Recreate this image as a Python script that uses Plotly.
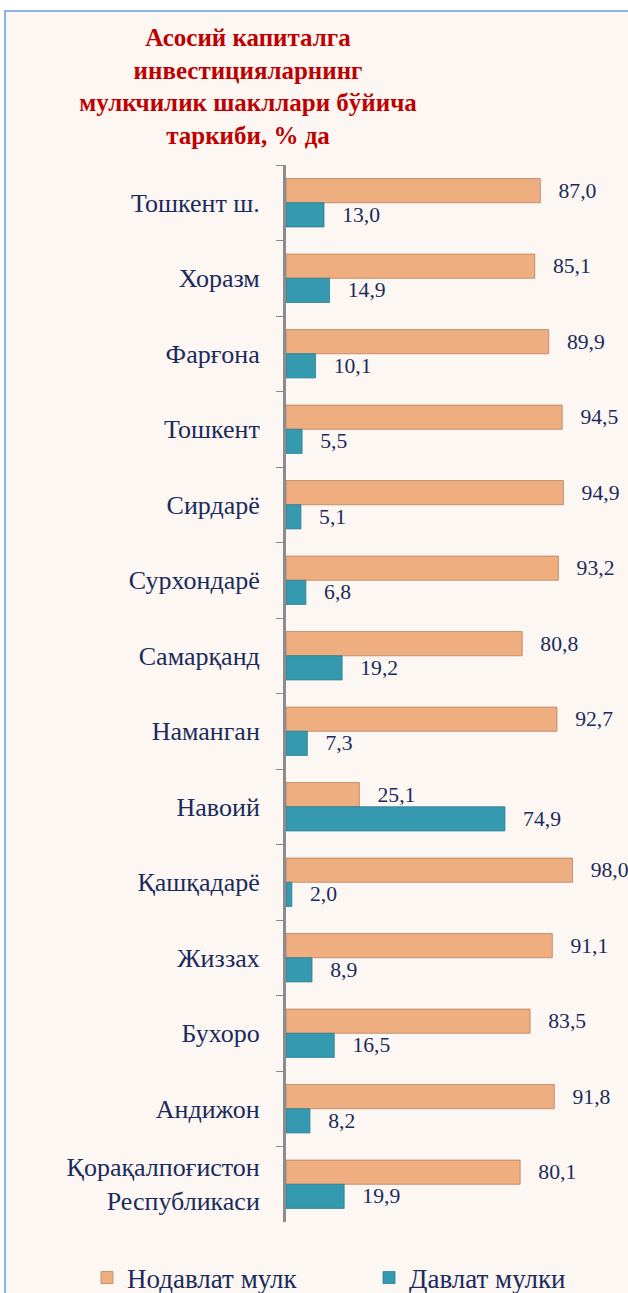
import plotly.graph_objects as go

categories = ["Тошкент ш.", "Хоразм", "Фарғона", "Тошкент", "Сирдарё", "Сурхондарё",
              "Самарқанд", "Наманган", "Навоий", "Қашқадарё", "Жиззах", "Бухоро",
              "Андижон", "Қорақалпоғистон<br>Республикаси"]
nodavlat = [87.0, 85.1, 89.9, 94.5, 94.9, 93.2, 80.8, 92.7, 25.1, 98.0, 91.1, 83.5, 91.8, 80.1]
davlat = [13.0, 14.9, 10.1, 5.5, 5.1, 6.8, 19.2, 7.3, 74.9, 2.0, 8.9, 16.5, 8.2, 19.9]
series_names = ["Нодавлат мулк", "Давлат мулки"]
title_text = "Асосий капиталга<br>инвестицияларнинг<br>мулкчилик шакллари бўйича<br>таркиби, % да"

FONT = "Liberation Serif"
NAVY = "#1B2A5C"

def fmt(v):
    return "\u2002\u2009" + f"{v:.1f}".replace(".", ",")

fig = go.Figure()
fig.add_trace(go.Bar(y=categories, x=nodavlat, orientation="h", name=series_names[0],
                     marker=dict(color="#EFAE80", line=dict(color="#B88060", width=0.8)),
                     text=[fmt(v) for v in nodavlat], textposition="outside",
                     textfont=dict(family=FONT, size=26, color=NAVY), cliponaxis=False))
fig.add_trace(go.Bar(y=categories, x=davlat, orientation="h", name=series_names[1],
                     marker=dict(color="#3599AF", line=dict(color="#2A7F93", width=0.8)),
                     text=[fmt(v) for v in davlat], textposition="outside",
                     textfont=dict(family=FONT, size=26, color=NAVY), cliponaxis=False))

L, R, T, B = 286, 628, 165, 1222
W, H = R - L, B - T
def px(x):
    return (x - L) / W
def py(y):
    return (B - y) / H

fig.update_layout(
    width=628, height=1293,
    margin=dict(l=L, r=628 - R, t=T, b=1293 - B, autoexpand=False),
    paper_bgcolor="white", plot_bgcolor="rgba(0,0,0,0)",
    barmode="group", bargap=0.36, bargroupgap=0,
    font=dict(family=FONT, color=NAVY),
    title=dict(text=title_text, x=248 / 628, xanchor="center", y=1 - 46 / 1293, yanchor="top",
               font=dict(family=FONT, size=25, color="#C00000", weight="bold")),
    xaxis=dict(range=[0, 117], visible=False, fixedrange=True),
    yaxis=dict(autorange="reversed", showline=True, linecolor="#8C8C8C", linewidth=3,
               ticks="outside", tickson="boundaries", ticklen=7, tickcolor="#8C8C8C",
               tickfont=dict(family=FONT, size=26, color=NAVY), ticklabelstandoff=18,
               showgrid=False, zeroline=False, automargin=False, fixedrange=True),
    legend=dict(orientation="h", x=px(87), xanchor="left", y=py(1278), yanchor="middle",
                font=dict(family=FONT, size=27, color=NAVY), itemwidth=30,
                bgcolor="rgba(0,0,0,0)", entrywidth=237),
    showlegend=True,
    shapes=[dict(type="rect", xref="paper", yref="paper", layer="below",
                 x0=px(5), x1=px(660), y0=py(1320), y1=py(11),
                 fillcolor="#FCF7F2", line=dict(color="#8EB4E3", width=2))],
)

fig.write_html("out.html", config={"displayModeBar": False},
               post_script="document.body.style.margin='0';document.body.style.overflow='hidden';")
